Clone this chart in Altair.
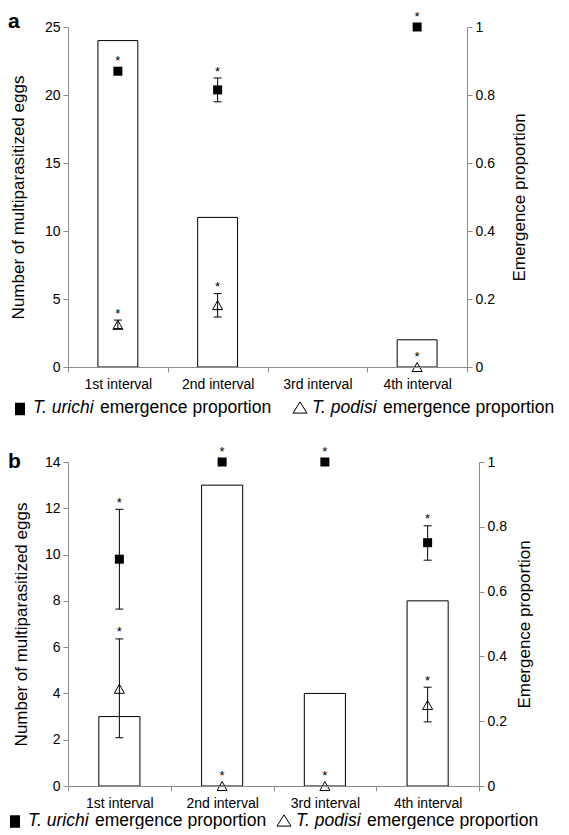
import altair as alt
import pandas as pd

intervals = ["1st interval", "2nd interval", "3rd interval", "4th interval"]
prop_ticks = [0, 0.2, 0.4, 0.6, 0.8, 1]

# Panel a
a_eggs = [24, 11, None, 2]
a_urichi = [0.87, 0.815, None, 1.0]
a_urichi_lo = [0.86, 0.78, None, 1.0]
a_urichi_hi = [0.88, 0.85, None, 1.0]
a_podisi = [0.124, 0.182, None, 0.0]
a_podisi_lo = [0.113, 0.147, None, 0.0]
a_podisi_hi = [0.138, 0.216, None, 0.0]
a_egg_ticks = [0, 5, 10, 15, 20, 25]

# Panel b
b_eggs = [3, 13, 4, 8]
b_urichi = [0.70, 1.0, 1.0, 0.751]
b_urichi_lo = [0.546, 1.0, 1.0, 0.697]
b_urichi_hi = [0.854, 1.0, 1.0, 0.803]
b_podisi = [0.30, 0.0, 0.0, 0.25]
b_podisi_lo = [0.149, 0.0, 0.0, 0.198]
b_podisi_hi = [0.454, 0.0, 0.0, 0.305]
b_egg_ticks = [0, 2, 4, 6, 8, 10, 12, 14]

FONT = "Liberation Sans"
AXIS_GREY = "#8c8c8c"
SQ_LEG = "M-0.8,-1L0.8,-1L0.8,1L-0.8,1Z"
TRI = "M0,-0.9L1,0.9L-1,0.9Z"
TRI_LEG = "M0,-0.8L1,0.8L-1,0.8Z"
LEG_FS = 17.5


def one():
    return pd.DataFrame({"k": [0]})


def txt(text, x, y, size, style="normal", weight="normal"):
    return alt.Chart(one()).mark_text(
        text=text, font=FONT, fontSize=size, fontStyle=style, fontWeight=weight,
        align="left", baseline="alphabetic", color="black"
    ).encode(x=alt.value(x), y=alt.value(y))


def anchor(x0, y0):
    # 1px white block that pins the panel's layout bounds to whole pixels
    return alt.Chart(one()).mark_rect(fill="white", opacity=1).encode(
        x=alt.value(x0), x2=alt.value(x0 + 1), y=alt.value(y0), y2=alt.value(y0 + 1))


def panel(letter, eggs, uri, uri_lo, uri_hi, pod, pod_lo, pod_hi,
          egg_max, egg_ticks, w, h, lay):
    bars_df = pd.DataFrame({"interval": intervals, "eggs": eggs}).dropna()
    rows = []
    for sp, v, lo, hi in (("urichi", uri, uri_lo, uri_hi),
                          ("podisi", pod, pod_lo, pod_hi)):
        for i, name in enumerate(intervals):
            if v[i] is None:
                continue
            rows.append(dict(interval=name, species=sp, value=v[i],
                             lo=lo[i], hi=hi[i], err=bool(hi[i] > lo[i])))
    pts = pd.DataFrame(rows)

    common = dict(domain=True, domainColor=AXIS_GREY, domainWidth=1,
                  ticks=True, tickColor=AXIS_GREY, tickWidth=1, tickSize=5,
                  zindex=1, grid=False)

    xscale = alt.Scale(type="band", domain=intervals, paddingInner=0, paddingOuter=0)
    xaxis = alt.Axis(title=None, labelAngle=0, tickBand="extent",
                     labelPadding=5, labelFontSize=14, **common)
    x = alt.X("interval:N", scale=xscale, sort=intervals, axis=xaxis)
    pscale = alt.Scale(domain=[0, 1], nice=False, zero=True)
    paxis = alt.Axis(orient="right", values=prop_ticks, format="~g",
                     title="Emergence proportion", titleAngle=270,
                     titleX=lay["rtx"], titleY=h / 2,
                     titleAlign="center", titleBaseline="middle", **common)

    def py(field):
        return alt.Y(field, type="quantitative", scale=pscale, axis=paxis,
                     title="Emergence proportion")

    bars = alt.Chart(bars_df).mark_bar(
        fill="white", stroke="black", strokeWidth=1,
        width=alt.RelativeBandSize(0.4)
    ).encode(
        x=x,
        y=alt.Y("eggs:Q", scale=alt.Scale(domain=[0, egg_max], nice=False),
                axis=alt.Axis(orient="left", values=egg_ticks,
                              title="Number of multiparasitized eggs",
                              titleAngle=270, titleX=lay["ltx"], titleY=h / 2,
                              titleAlign="center", titleBaseline="middle", **common)),
    )

    base = alt.Chart(pts)
    err = base.transform_filter("datum.err")
    rules = err.mark_rule(color="black", strokeWidth=1).encode(
        x=x, y=py("lo"), y2="hi:Q")
    cap_lo = err.mark_tick(color="black", size=8, thickness=1, opacity=1).encode(
        x=x, y=py("lo"))
    cap_hi = err.mark_tick(color="black", size=8, thickness=1, opacity=1).encode(
        x=x, y=py("hi"))
    uri_pts = base.transform_filter("datum.species == 'urichi'").mark_point(
        shape="square", size=81, filled=True, color="black", opacity=1).encode(
        x=x, y=py("value"))
    pod_pts = base.transform_filter("datum.species == 'podisi'").mark_point(
        shape=TRI, size=100, filled=False, stroke="black", strokeWidth=1, opacity=1).encode(
        x=x, y=py("value"))
    stars_err = err.mark_text(
        text="*", font=FONT, fontSize=13, dy=-2.5, baseline="alphabetic", color="black").encode(
        x=x, y=py("hi"))
    stars_noerr = base.transform_filter("!datum.err").mark_text(
        text="*", font=FONT, fontSize=13, dy=-6, baseline="alphabetic", color="black").encode(
        x=x, y=py("value"))

    inner = alt.layer(rules, cap_lo, cap_hi, uri_pts, pod_pts, stars_err, stars_noerr)

    leg_sq = alt.Chart(one()).mark_point(
        shape=SQ_LEG, size=156, filled=True, color="black", opacity=1).encode(
        x=alt.value(lay["sq"][0]), y=alt.value(lay["sq"][1]))
    leg_tri = alt.Chart(one()).mark_point(
        shape=TRI_LEG, size=196, filled=False, stroke="black", strokeWidth=1, opacity=1).encode(
        x=alt.value(lay["tri"][0]), y=alt.value(lay["tri"][1]))
    ly = lay["leg_y"]
    legend = [
        leg_sq,
        txt("T. urichi", lay["t1"], ly, LEG_FS, style="italic"),
        txt("emergence proportion", lay["t2"], ly, LEG_FS),
        leg_tri,
        txt("T. podisi", lay["t3"], ly, LEG_FS, style="italic"),
        txt("emergence proportion", lay["t4"], ly, LEG_FS),
    ]
    letter_mark = txt(letter, lay["letter"][0], lay["letter"][1], 21, weight="bold")
    anchors = [anchor(x0, y0) for (x0, y0) in lay["anchors"]]

    return alt.layer(*anchors, bars, inner, letter_mark, *legend).resolve_scale(
        y="independent").properties(width=w, height=h)


lay_a = dict(ltx=-49.5, rtx=52, letter=(-60, 1), leg_y=386,
             sq=(-48, 382), tri=(232, 380.5), t1=-35, t2=32, t3=244, t4=315,
             anchors=[(-60, -19), (-60, 393)])
lay_b = dict(ltx=-47, rtx=45, letter=(-60, 6), leg_y=363.5,
             sq=(-53, 359.5), tri=(216, 358.5), t1=-40, t2=27, t3=228, t4=299,
             anchors=[(-60, -19)])

pa = panel("a", a_eggs, a_urichi, a_urichi_lo, a_urichi_hi,
           a_podisi, a_podisi_lo, a_podisi_hi, 25, a_egg_ticks, 399, 340, lay_a)
pb = panel("b", b_eggs, b_urichi, b_urichi_lo, b_urichi_hi,
           b_podisi, b_podisi_lo, b_podisi_hi, 14, b_egg_ticks, 411, 324, lay_b)

chart = alt.vconcat(pa, pb, spacing=22).properties(
    padding={"top": 0, "left": 0, "right": 0, "bottom": 0}
).configure_view(
    strokeWidth=0
).configure_axis(
    labelColor="black", labelFont=FONT, labelFontSize=14,
    titleFont=FONT, titleFontSize=17, titleFontWeight="normal",
    titleColor="black", labelPadding=3
)

chart.save("out.html", embed_options={"renderer": "svg", "actions": False})
